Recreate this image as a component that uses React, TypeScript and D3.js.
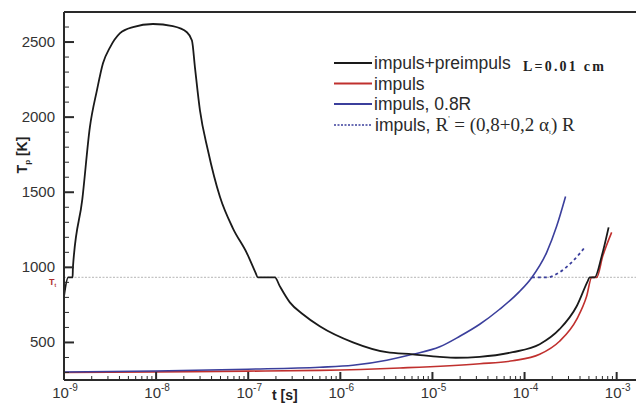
import React from "react";
import * as d3 from "d3";

// ---- data (t in seconds, T in K) ----
const blackT = [1.0e-9, 1.11e-9, 1.24e-9, 1.25e-9, 1.58e-9, 1.91e-9, 2.28e-9, 2.65e-9, 3.16e-9, 4.06e-9, 5.61e-9, 9.25e-9, 1.52e-8, 2.16e-8, 2.45e-8, 2.64e-8, 2.99e-8, 3.65e-8, 4.93e-8, 6.82e-8, 9.66e-8, 1.2e-7, 1.27e-7, 1.95e-7, 2.2e-7, 2.83e-7, 3.92e-7, 5.98e-7, 1.37e-6, 3.19e-6, 6.11e-6, 1.2e-5, 1.79e-5, 3.26e-5, 7.43e-5, 1.46e-4, 2.4e-4, 3.68e-4, 4.84e-4, 5.09e-4, 5.77e-4, 6.87e-4, 8.18e-4];
const blackV = [807, 933, 933, 1000, 1452, 1934, 2180, 2359, 2465, 2559, 2600, 2620, 2606, 2565, 2510, 2332, 2047, 1780, 1470, 1260, 1095, 965, 933, 933, 875, 767, 688, 608, 501, 435, 421, 404, 398, 404, 435, 488, 588, 741, 907, 933, 933, 1073, 1266];

const redT = [1.0e-9, 9.8e-9, 9.9e-8, 5.98e-7, 4.42e-6, 3.26e-5, 7.43e-5, 1.46e-4, 2.4e-4, 3.68e-4, 4.72e-4, 5.36e-4, 6.07e-4, 7.05e-4, 8.83e-4];
const redV = [300, 304, 309, 314, 330, 358, 378, 421, 508, 654, 807, 933, 933, 1073, 1233];

const blueT = [1.0e-9, 9.8e-9, 9.9e-8, 5.98e-7, 1.37e-6, 3.19e-6, 6.11e-6, 1.2e-5, 1.98e-5, 3.26e-5, 5.37e-5, 8.85e-5, 1.2e-4, 1.74e-4, 2.23e-4, 2.79e-4];
const blueV = [303, 310, 322, 335, 348, 382, 421, 471, 541, 621, 721, 840, 933, 1100, 1273, 1472];

const dotT = [1.2e-4, 1.74e-4, 2.4e-4, 3.33e-4, 4.6e-4];
const dotV = [933, 933, 967, 1040, 1140];

const Tt = 933;
const yMajor = [500, 1000, 1500, 2000, 2500];
const xDecades = [-9, -8, -7, -6, -5, -4, -3];

const legendLabels = ["impuls+preimpuls", "impuls", "impuls, 0.8R"];
const legendColors = ["#1a1a1a", "#c0302e", "#3b3f9c"];

const sans = "'Liberation Sans', Arial, sans-serif";
const serif = "'Liberation Serif', 'Times New Roman', serif";

export default function App() {
  const W = 636, H = 403;
  const left = 64, right = 636, top = 12, bottom = 380;
  const x = d3.scaleLog().domain([1e-9, Math.pow(10, -2.79)]).range([left, right]);
  const y = d3.scaleLinear().domain([250, 2700]).range([bottom, top]);

  const line = d3.line<[number, number]>()
    .x(d => x(d[0]))
    .y(d => y(d[1]))
    .curve(d3.curveMonotoneX);

  const zip = (a: number[], b: number[]) => a.map((v, i) => [v, b[i]] as [number, number]);

  const yMinor = d3.range(300, 2700, 100).filter(v => v % 500 !== 0);
  const xMinor: number[] = [];
  xDecades.forEach(d => {
    for (let k = 2; k <= 9; k++) {
      const v = k * Math.pow(10, d);
      if (x(v) < right) xMinor.push(v);
    }
  });

  const axisColor = "#2a2a2a";
  const textColor = "#333";

  return (
    <svg width={W} height={H} style={{ position: "absolute", left: 0, top: 0, background: "#fff" }}>
      {/* threshold line */}
      <line x1={left} x2={right} y1={y(Tt)} y2={y(Tt)} stroke="#c4c4c4" strokeWidth={1.2} strokeDasharray="2,1.5" />
      <text x={49} y={y(Tt) + 8} fontFamily={sans} fontSize={9} fontWeight="bold" fill="#b03030">T<tspan fontSize={5} dy={2}>t</tspan></text>

      {/* series */}
      <path d={line(zip(redT, redV)) || ""} fill="none" stroke={legendColors[1]} strokeWidth={1.6} />
      <path d={line(zip(blueT, blueV)) || ""} fill="none" stroke={legendColors[2]} strokeWidth={1.6} />
      <path d={line(zip(dotT, dotV)) || ""} fill="none" stroke={legendColors[2]} strokeWidth={1.8} strokeDasharray="3,3" />
      <path d={line(zip(blackT, blackV)) || ""} fill="none" stroke={legendColors[0]} strokeWidth={1.8} />

      {/* axes frame */}
      <line x1={left} x2={right} y1={top} y2={top} stroke={axisColor} strokeWidth={2} />
      <line x1={left} x2={left} y1={top} y2={bottom} stroke={axisColor} strokeWidth={2} />
      <line x1={left} x2={right} y1={bottom} y2={bottom} stroke={axisColor} strokeWidth={2} />

      {/* y ticks */}
      {yMinor.map(v => (
        <line key={"ym" + v} x1={left} x2={left + 5} y1={y(v)} y2={y(v)} stroke={axisColor} strokeWidth={1} />
      ))}
      {yMajor.map(v => (
        <g key={"yM" + v}>
          <line x1={left} x2={left + 10} y1={y(v)} y2={y(v)} stroke={axisColor} strokeWidth={2} />
          <text x={55} y={y(v) + 5} textAnchor="end" fontFamily={sans} fontSize={15} fill={textColor}>{v}</text>
        </g>
      ))}

      {/* x ticks */}
      {xMinor.map((v, i) => (
        <line key={"xm" + i} x1={x(v)} x2={x(v)} y1={bottom} y2={bottom - 4} stroke={axisColor} strokeWidth={1} />
      ))}
      {xDecades.map(d => {
        const v = Math.pow(10, d);
        return (
          <g key={"xM" + d}>
            <line x1={x(v)} x2={x(v)} y1={bottom} y2={bottom - 8} stroke={axisColor} strokeWidth={2} />
            <text x={x(v) + 1} y={398} textAnchor="middle" fontFamily={sans} fontSize={15} fill={textColor}>
              10<tspan fontSize={10} dy={-7}>{d}</tspan>
            </text>
          </g>
        );
      })}

      {/* axis titles */}
      <text x={272} y={400} fontFamily={sans} fontSize={14} fontWeight="bold" fill="#222">t [s]</text>
      <text transform={`translate(27,155) rotate(-90)`} textAnchor="middle" fontFamily={sans} fontSize={14} fontWeight="bold" fill="#222">
        T<tspan fontSize={8} dy={3}>p</tspan><tspan dy={-3}> [K]</tspan>
      </text>

      {/* legend */}
      {legendLabels.map((lab, i) => (
        <g key={lab}>
          <line x1={334} x2={372} y1={63 + i * 20.5} y2={63 + i * 20.5} stroke={legendColors[i]} strokeWidth={2} />
          <text x={374} y={69 + i * 20.5} fontFamily={sans} fontSize={17.5} fill="#2a2a2a">{lab}</text>
        </g>
      ))}
      <line x1={334} x2={372} y1={125} y2={125} stroke={legendColors[2]} strokeWidth={1.5} strokeDasharray="2,1.5" />
      <text x={375} y={131} fontFamily={sans} fontSize={17.5} fill="#2a2a2a">
        impuls,
        <tspan fontFamily={serif} fontSize={19} dx={5}>R</tspan>
        <tspan fontFamily={serif} fontSize={8} dy={-9}>'</tspan>
        <tspan fontFamily={serif} fontSize={19} dy={9}> = (0,8+0,2 α</tspan>
        <tspan fontFamily={serif} fontSize={7} dy={3}>t</tspan>
        <tspan fontFamily={serif} fontSize={19} dy={-3}>) R</tspan>
      </text>
      <text x={523} y={71} fontFamily={serif} fontSize={14} fontWeight="bold" letterSpacing={2.2} fill="#222">L=0.01 cm</text>
    </svg>
  );
}
